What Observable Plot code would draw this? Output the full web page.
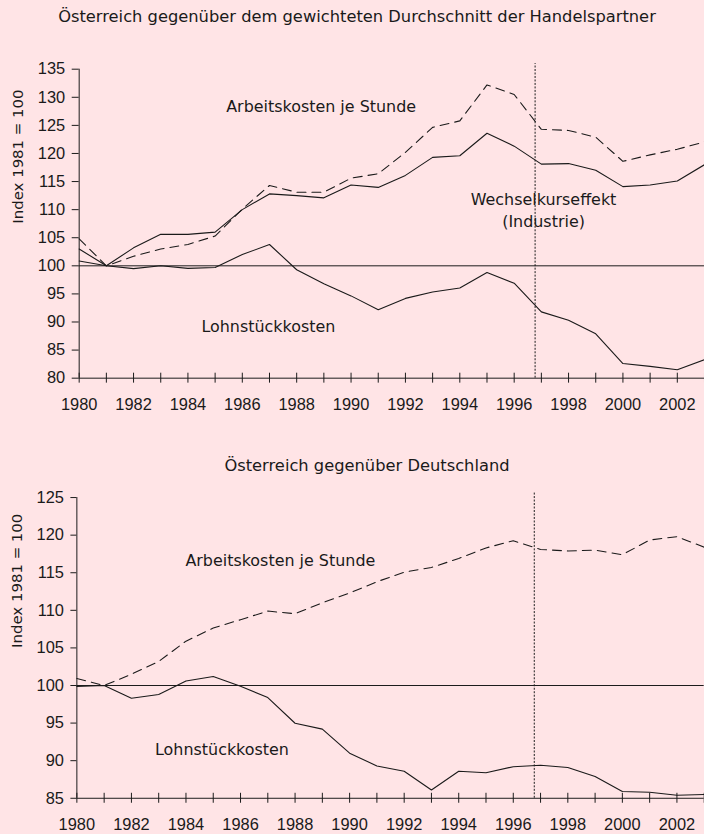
<!DOCTYPE html>
<html>
<head>
<meta charset="utf-8">
<script src="https://cdn.jsdelivr.net/npm/d3@7"></script>
<script src="https://cdn.jsdelivr.net/npm/@observablehq/plot@0.6"></script>
<style>
  html, body { margin: 0; padding: 0; }
  body { width: 704px; height: 834px; overflow: hidden; position: relative; background: #ffe4e6; font-family: "DejaVu Sans", sans-serif; color: #1a1a1a; }
  .title { position: absolute; transform: translateX(-50%); white-space: nowrap; font-size: 16.3px; line-height: 16px; }
  .panel { position: absolute; left: 0; }
</style>
</head>
<body>
<div class="title" id="t1"></div>
<div class="panel" id="p1"></div>
<div class="title" id="t2"></div>
<div class="panel" id="p2"></div>
<script>
// ---- data ----
const years = d3.range(1980, 2004);
const allTickYears = d3.range(1980, 2004);
const labelYears = d3.range(1980, 2003, 2);

const title1 = "Österreich gegenüber dem gewichteten Durchschnitt der Handelspartner";
const title2 = "Österreich gegenüber Deutschland";
const yTitle = "Index 1981 = 100";
const breakYear = [1996.77];

// Panel 1: gegenüber Handelspartnern
const p1AkDashed = [104.8, 100, 101.7, 103.0, 103.8, 105.3, 110.1, 114.3, 113.1, 113.1, 115.6, 116.4, 120.2, 124.65, 125.8, 132.2, 130.5, 124.3, 124.1, 122.9, 118.6, 119.75, 120.75, 122.05];
const p1AkSolid  = [103.0, 100, 103.2, 105.6, 105.6, 106.0, 110.0, 112.8, 112.5, 112.1, 114.4, 113.96, 116.1, 119.3, 119.6, 123.6, 121.3, 118.1, 118.2, 117.0, 114.1, 114.4, 115.1, 118.0];
const p1Lsk      = [100.85, 100, 99.5, 100.0, 99.55, 99.7, 102.0, 103.8, 99.3, 96.8, 94.65, 92.2, 94.2, 95.35, 96.05, 98.8, 96.9, 91.8, 90.3, 87.9, 82.6, 82.1, 81.5, 83.3];
const p1YTicks = d3.range(80, 136, 5);
const p1Labels = [
  {text: "Arbeitskosten je Stunde", year: 1988.9, value: 128.28},
  {text: "Lohnstückkosten", year: 1986.96, value: 89.11},
  {text: "Wechselkurseffekt", year: 1997.08, value: 111.8},
  {text: "(Industrie)", year: 1997.08, value: 107.9}
];

// Panel 2: gegenüber Deutschland
const p2AkDashed = [100.94, 100.0, 101.5, 103.2, 105.9, 107.65, 108.75, 109.9, 109.55, 111.0, 112.3, 113.8, 115.07, 115.7, 116.9, 118.3, 119.26, 118.1, 117.9, 118.0, 117.4, 119.35, 119.8, 118.4];
const p2Lsk      = [99.88, 100.0, 98.3, 98.8, 100.6, 101.2, 99.9, 98.4, 94.98, 94.2, 91.0, 89.3, 88.6, 86.1, 88.6, 88.4, 89.2, 89.4, 89.1, 87.9, 85.9, 85.8, 85.4, 85.5];
const p2YTicks = d3.range(85, 126, 5);
const p2Labels = [
  {text: "Arbeitskosten je Stunde", year: 1987.46, value: 116.58},
  {text: "Lohnstückkosten", year: 1985.32, value: 91.41}
];

// ---- drawing ----
const INK = "#1a1a1a";
const tickFont = "Liberation Sans";

function panel({height, marginTop, marginBottom, marginLeft, marginRight, yDomain, yTicks, solid, dashed, labels, breakTop, titleDx, xTickSize, yTickSize, yTickPadding}) {
  const marks = [
    Plot.ruleY([100], {stroke: INK, strokeWidth: 1}),
    Plot.ruleX(breakYear, {y1: yDomain[0], y2: breakTop, stroke: INK, strokeWidth: 1, strokeDasharray: "2,1.5"}),
    Plot.ruleY([yDomain[0]], {stroke: INK, strokeWidth: 1}),
    Plot.ruleX([years[0]], {y1: yDomain[0], y2: yDomain[1], stroke: INK, strokeWidth: 1}),
    Plot.axisX({ticks: allTickYears, tickSize: xTickSize, dy: -xTickSize / 2, text: null, stroke: INK, label: null}),
    Plot.axisX({ticks: labelYears, tickSize: 0, tickPadding: 20, tickFormat: d => String(d), fontFamily: tickFont, fontSize: 16.5, fill: INK, label: null}),
    Plot.axisY({ticks: yTicks, tickSize: yTickSize, tickPadding: yTickPadding, fontFamily: tickFont, fontSize: 16.5, fill: INK, stroke: INK, label: null}),
    Plot.text([yTitle], {frameAnchor: "left", rotate: -90, dx: titleDx, fontSize: 15, fill: INK}),
    Plot.text(labels, {x: "year", y: "value", text: "text", fontSize: 16, fill: INK, textAnchor: "middle", lineAnchor: "middle"})
  ];
  for (const s of solid) {
    marks.push(Plot.line(years.map((y, i) => ({year: y, value: s[i]})), {x: "year", y: "value", stroke: INK, strokeWidth: 1.1}));
  }
  for (const s of dashed) {
    marks.push(Plot.line(years.map((y, i) => ({year: y, value: s[i]})), {x: "year", y: "value", stroke: INK, strokeWidth: 1.1, strokeDasharray: "9,6"}));
  }
  return Plot.plot({
    width: 707,
    height, marginTop, marginBottom, marginLeft, marginRight,
    x: {domain: [1980, 2003], label: null},
    y: {domain: yDomain, label: null},
    style: {background: "transparent", fontFamily: "DejaVu Sans", fontSize: "16px", color: INK, overflow: "visible"},
    marks
  });
}

const t1 = document.getElementById("t1");
t1.textContent = title1;
t1.style.left = "357px"; t1.style.top = "8.5px";
const t2 = document.getElementById("t2");
t2.textContent = title2;
t2.style.left = "367px"; t2.style.top = "457.5px";

const p1 = document.getElementById("p1");
p1.style.top = "0px";
p1.appendChild(panel({
  height: 420, marginTop: 69, marginBottom: 40.7, marginLeft: 79, marginRight: 0,
  yDomain: [80, 135], yTicks: p1YTicks, solid: [p1AkSolid, p1Lsk], dashed: [p1AkDashed],
  labels: p1Labels, breakTop: 136, titleDx: -61, xTickSize: 10, yTickSize: 7, yTickPadding: 7
}));

const p2 = document.getElementById("p2");
p2.style.top = "440px";
p2.appendChild(panel({
  height: 394, marginTop: 57.3, marginBottom: 34.7, marginLeft: 76.7, marginRight: 0.3,
  yDomain: [85, 125], yTicks: p2YTicks, solid: [p2Lsk], dashed: [p2AkDashed],
  labels: p2Labels, breakTop: 125.7, titleDx: -60.2, xTickSize: 10, yTickSize: 6, yTickPadding: 7
}));
</script>
</body>
</html>
